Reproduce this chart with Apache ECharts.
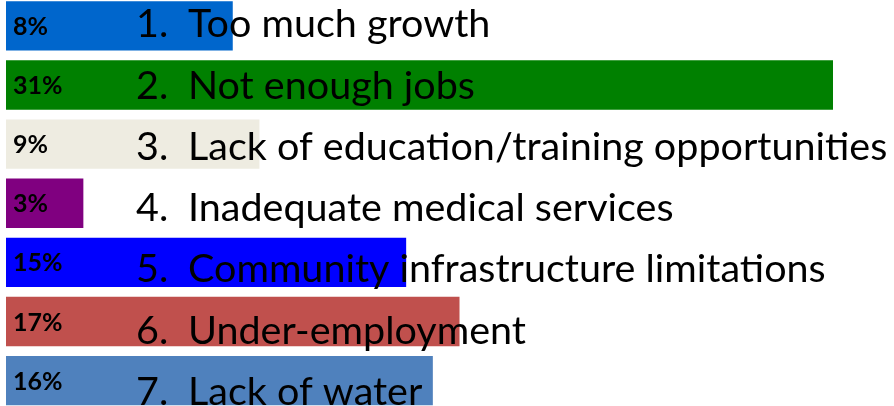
<!DOCTYPE html>
<html>
<head>
<meta charset="utf-8">
<script src="https://cdn.jsdelivr.net/npm/echarts@6/dist/echarts.min.js"></script>
<style>
  html, body { margin: 0; padding: 0; background: #fff; }
  #chart { width: 894px; height: 406px; }
</style>
</head>
<body>
<div id="chart"></div>
<script>
// 问题分类
var categories = ["Too much growth", "Not enough jobs", "Lack of education/training opportunities",
    "Inadequate medical services", "Community infrastructure limitations", "Under-employment", "Lack of water"];
// 条形长度（按图估计）
var barValues = [8.5, 31, 9.5, 2.9, 15, 17, 16];
// 条形上的百分比文字
var pctLabels = ["8%", "31%", "9%", "3%", "15%", "17%", "16%"];
var barColors = ["#0066cc", "#008000", "#eeece1", "#800080", "#0000ff", "#c0504d", "#4f81bd"];

var myChart = echarts.init(document.querySelector("#chart"));
var option = {
    animation: false,
    grid: [
        // 条形
        { left: 6, width: 827, top: -3.75, height: 414, outerBoundsMode: "none", containLabel: false },
        // 文字（行距比条形略大）
        { left: 136, width: 750, top: -6.15, height: 429, outerBoundsMode: "none", containLabel: false }
    ],
    xAxis: [
        { gridIndex: 0, type: "value", min: 0, max: 31, show: false },
        { gridIndex: 1, type: "value", min: 0, max: 1, show: false }
    ],
    yAxis: [
        { gridIndex: 0, type: "category", inverse: true, data: categories, show: false },
        {
            gridIndex: 1,
            type: "category",
            inverse: true,
            data: categories,
            z: 5,
            axisLine: { show: false },
            axisTick: { show: false },
            axisLabel: {
                interval: 0,
                align: "left",
                margin: 0,
                formatter: function (value, index) {
                    return "{n|" + (index + 1) + ".}{t|" + value + "}";
                },
                rich: {
                    n: { width: 52, fontFamily: "Lato", fontSize: 39.5, color: "#000" },
                    t: { fontFamily: "Lato", fontSize: 39.5, color: "#000" }
                }
            }
        }
    ],
    series: [
        {
            type: "bar",
            xAxisIndex: 0,
            yAxisIndex: 0,
            barCategoryGap: "16.6%",
            data: barValues.map(function (v, i) {
                return { value: v, itemStyle: { color: barColors[i] } };
            }),
            label: {
                show: true,
                position: "insideLeft",
                distance: 7,
                offset: [0, 1],
                formatter: function (p) {
                    return pctLabels[p.dataIndex];
                },
                fontFamily: "Lato",
                fontWeight: "bold",
                fontSize: 25,
                color: "#000"
            }
        }
    ]
};
myChart.setOption(option);
</script>
</body>
</html>
